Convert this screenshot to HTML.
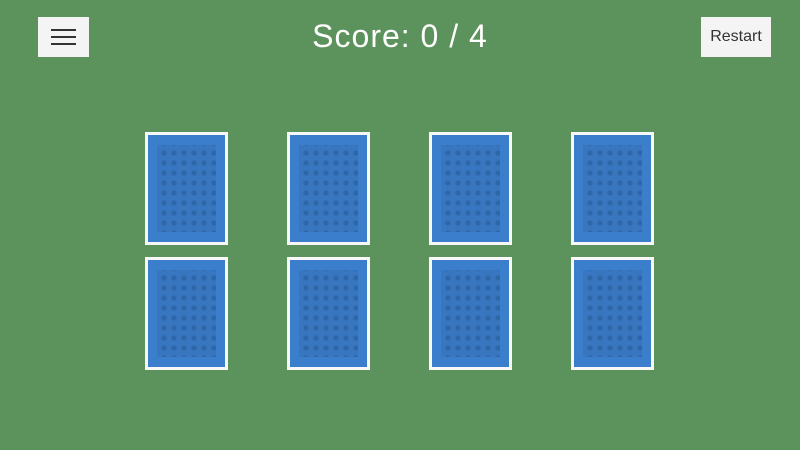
<!DOCTYPE html>
<html><head><style>
body{margin:0;width:800px;height:450px;background:#5c935c;position:relative;overflow:hidden;font-family:"Liberation Sans",sans-serif}
.menu{position:absolute;left:38px;top:17px;width:51px;height:40px;background:#f4f4f4}
.menu i{position:absolute;left:13px;width:25px;height:2px;background:#333}
.restart{position:absolute;left:701px;top:17px;width:70px;height:40px;background:#f4f4f4;font-size:16px;color:#333;text-align:center;line-height:40px}
.score{position:absolute;left:0;width:800px;top:18px;text-align:center;color:#fff;font-size:32px;letter-spacing:1px}
.card{position:absolute;width:77px;height:107px;background:#3b7fcc;border:3px solid #f8f8f8}
.card .p{position:absolute;left:9px;top:10px;width:59px;height:87px;background:#3876c0;
background-image:radial-gradient(circle,#2f66a8 2.2px,transparent 3px);background-size:10px 10px;background-position:2px 3px}
</style></head><body>
<div class="menu"><i style="top:12px"></i><i style="top:19px"></i><i style="top:26px"></i></div>
<div class="score">Score: 0 / 4</div>
<div class="restart">Restart</div>
<div class="card" style="left:145px;top:132px"><div class="p"></div></div>
<div class="card" style="left:287px;top:132px"><div class="p"></div></div>
<div class="card" style="left:429px;top:132px"><div class="p"></div></div>
<div class="card" style="left:571px;top:132px"><div class="p"></div></div>
<div class="card" style="left:145px;top:257px"><div class="p"></div></div>
<div class="card" style="left:287px;top:257px"><div class="p"></div></div>
<div class="card" style="left:429px;top:257px"><div class="p"></div></div>
<div class="card" style="left:571px;top:257px"><div class="p"></div></div>
</body></html>
